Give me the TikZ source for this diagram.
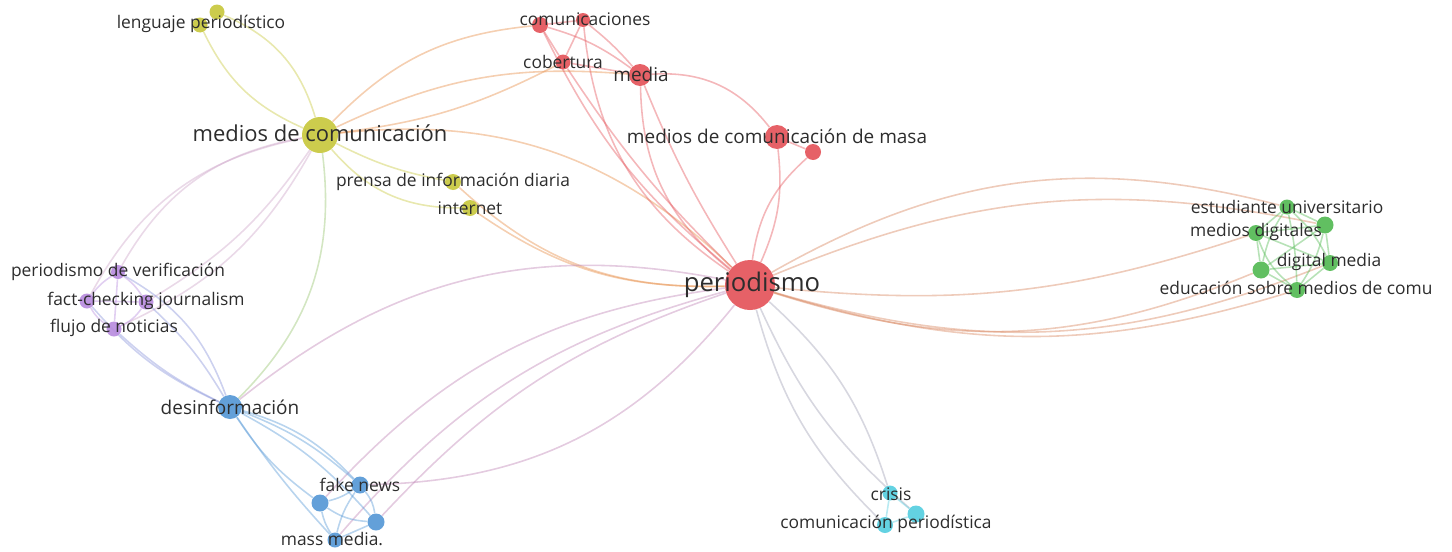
\documentclass[tikz,border=0pt]{standalone}
\usepackage{fontspec}
\setmainfont{Open Sans}
\usepackage{xcolor}
\usetikzlibrary{backgrounds}

\definecolor{cR}{RGB}{228,84,90}
\definecolor{cY}{RGB}{200,200,62}
\definecolor{cG}{RGB}{84,186,84}
\definecolor{cB}{RGB}{86,152,214}
\definecolor{cP}{RGB}{184,140,222}
\definecolor{cC}{RGB}{86,206,224}
\definecolor{eRY}{RGB}{230,140,70}
\definecolor{eRG}{RGB}{215,130,90}
\definecolor{eRB}{RGB}{190,130,180}
\definecolor{eRC}{RGB}{160,160,180}
\definecolor{eYP}{RGB}{205,165,200}
\definecolor{eYB}{RGB}{150,195,110}
\definecolor{txt}{RGB}{45,45,45}

\begin{document}
\begin{tikzpicture}[x=0.02cm,y=-0.02cm,
  nd/.style={circle,inner sep=0pt,minimum size=#1*0.02cm,fill opacity=0.92},
  lbS/.style={text=txt,inner sep=0pt,font=\fontsize{9.9}{11}\selectfont},
  lbM/.style={text=txt,inner sep=0pt,font=\fontsize{10.8}{12}\selectfont},
  lbL/.style={text=txt,inner sep=0pt,font=\fontsize{12.5}{14}\selectfont},
  lbXL/.style={text=txt,inner sep=0pt,font=\fontsize{14.6}{16}\selectfont},
  lk/.style={line width=0.9pt,opacity=0.42}]

\useasboundingbox (0,0) rectangle (1452,551);

% red cluster
\node(per) at (750,285)[nd=50,fill=cR]{};
\node(com1) at (540,25)[nd=16,fill=cR]{};
\node(com2) at (583,20)[nd=14,fill=cR]{};
\node(cob) at (563,62)[nd=15,fill=cR]{};
\node(med) at (640,75)[nd=22,fill=cR]{};
\node(mas) at (777,137)[nd=24,fill=cR]{};
\node(mas2) at (813,152)[nd=16,fill=cR]{};
% yellow cluster
\node(mdc) at (320,135)[nd=36,fill=cY]{};
\node(len1) at (200,25)[nd=15,fill=cY]{};
\node(len2) at (217,12)[nd=15,fill=cY]{};
\node(pre) at (453,182)[nd=16,fill=cY]{};
\node(int) at (470,208)[nd=16,fill=cY]{};
% green cluster
\node(est) at (1287,207)[nd=15,fill=cG]{};
\node(gr2) at (1325,225)[nd=17,fill=cG]{};
\node(mdig) at (1256,233)[nd=16,fill=cG]{};
\node(dmed) at (1330,263)[nd=16,fill=cG]{};
\node(gr5) at (1261,270)[nd=17,fill=cG]{};
\node(edu) at (1297,290)[nd=16,fill=cG]{};
% purple cluster
\node(ver) at (118,272)[nd=14,fill=cP]{};
\node(fc1) at (87,301)[nd=15,fill=cP]{};
\node(fc2) at (146,302)[nd=15,fill=cP]{};
\node(flu) at (114,329)[nd=15,fill=cP]{};
% blue cluster
\node(des) at (230,407)[nd=24,fill=cB]{};
\node(fak) at (360,485)[nd=17,fill=cB]{};
\node(bl2) at (320,503)[nd=17,fill=cB]{};
\node(bl3) at (376,522)[nd=17,fill=cB]{};
\node(mm) at (335,540)[nd=15,fill=cB]{};
% cyan cluster
\node(cri) at (890,493)[nd=15,fill=cC]{};
\node(cy2) at (916,514)[nd=17,fill=cC]{};
\node(cp) at (885,525)[nd=16,fill=cC]{};

\begin{scope}[on background layer]
% links of medios de comunicacion
\draw[lk,cY] (mdc) to[bend left=20] (len1);
\draw[lk,cY] (mdc) to[bend right=25] (len2);
\draw[lk,cY] (mdc) to[bend right=8] (pre);
\draw[lk,cY] (mdc) to[bend right=25] (int);
\draw[lk,eRY] (mdc) to[bend left=20] (com1);
\draw[lk,eRY] (mdc) to[bend left=15] (med);
\draw[lk,eRY] (mdc) to[bend right=10] (cob);
\draw[lk,eRY] (mdc) to[bend left=25] (per);
\draw[lk,eYP] (mdc) to[bend right=25] (ver);
\draw[lk,eYP] (mdc) to[bend right=25] (fc1);
\draw[lk,eYP] (mdc) to[bend left=12] (fc2);
\draw[lk,eYP] (mdc) to[bend left=18] (flu);
\draw[lk,eYB] (mdc) to[bend left=26] (des);
\draw[lk,eRY] (pre) to[bend right=22] (per);
\draw[lk,eRY] (int) to[bend right=18] (per);

% red links
\draw[lk,cR] (com1) -- (com2);
\draw[lk,cR] (com1) -- (cob);
\draw[lk,cR] (com1) to[bend left=10] (med);
\draw[lk,cR] (com2) -- (cob);
\draw[lk,cR] (com2) to[bend left=5] (med);
\draw[lk,cR] (cob) -- (med);
\draw[lk,cR] (com2) to[bend right=25] (per);
\draw[lk,cR] (com1) to[bend right=12] (per);
\draw[lk,cR] (cob) to[bend right=6] (per);
\draw[lk,cR] (med) to[bend right=25] (per);
\draw[lk,cR] (med) to[bend right=5] (per);
\draw[lk,cR] (med) to[bend left=28] (mas);
\draw[lk,cR] (mas) -- (mas2);
\draw[lk,cR] (mas) to[bend left=15] (per);
\draw[lk,cR] (mas2) to[bend right=20] (per);

% periodismo to green
\draw[lk,eRG] (per) to[bend left=22] (est);
\draw[lk,eRG] (per) to[bend left=17] (gr2);
\draw[lk,eRG] (per) to[bend right=12] (mdig);
\draw[lk,eRG] (per) to[bend right=20] (gr5);
\draw[lk,eRG] (per) to[bend right=17] (edu);
\draw[lk,eRG] (per) to[bend right=19] (dmed);

% periodismo to blue and cyan
\draw[lk,eRB] (des) to[bend left=25] (per);
\draw[lk,eRB] (fak) to[bend right=25] (per);
\draw[lk,eRB] (bl2) to[bend left=20] (per);
\draw[lk,eRB] (mm) to[bend left=17] (per);
\draw[lk,eRB] (bl3) to[bend left=14] (per);
\draw[lk,eRC] (per) to[bend left=15] (cri);
\draw[lk,eRC] (per) to[bend right=15] (cp);
\draw[lk,eRC] (per) to[bend right=12] (cy2);

% purple links
\draw[lk,cP] (ver) to[bend right=10] (fc1);
\draw[lk,cP] (ver) to[bend left=10] (fc2);
\draw[lk,cP] (ver) -- (flu);
\draw[lk,cP] (fc1) to[bend right=15] (flu);
\draw[lk,cP] (fc2) to[bend left=15] (flu);
\draw[lk,cP] (fc1) -- (fc2);
\draw[lk,cP!50!cB] (ver) to[bend left=20] (des);
\draw[lk,cP!50!cB] (fc1) to[bend right=12] (des);
\draw[lk,cP!50!cB] (fc2) to[bend left=8] (des);
\draw[lk,cP!50!cB] (flu) to[bend right=8] (des);

% blue links
\draw[lk,cB] (des) to[bend left=15] (fak);
\draw[lk,cB] (des) to[bend left=10] (fak);
\draw[lk,cB] (des) to[bend left=10] (bl3);
\draw[lk,cB] (des) to[bend right=10] (bl2);
\draw[lk,cB] (des) to[bend right=4] (mm);
\draw[lk,cB] (fak) to[bend left=10] (bl2);
\draw[lk,cB] (fak) to[bend right=10] (mm);
\draw[lk,cB] (fak) to[bend left=15] (bl3);
\draw[lk,cB] (bl2) to[bend right=10] (mm);
\draw[lk,cB] (bl2) to[bend right=15] (bl3);
\draw[lk,cB] (mm) -- (bl3);

% green links
\draw[lk,cG] (est) -- (gr2);
\draw[lk,cG] (est) -- (mdig);
\draw[lk,cG] (est) to[bend left=10] (dmed);
\draw[lk,cG] (est) to[bend right=10] (gr5);
\draw[lk,cG] (est) to[bend left=5] (edu);
\draw[lk,cG] (gr2) -- (mdig);
\draw[lk,cG] (gr2) -- (dmed);
\draw[lk,cG] (gr2) -- (gr5);
\draw[lk,cG] (gr2) to[bend left=10] (edu);
\draw[lk,cG] (mdig) to[bend right=15] (edu);
\draw[lk,cG] (mdig) -- (gr5);
\draw[lk,cG] (mdig) -- (dmed);
\draw[lk,cG] (dmed) -- (edu);
\draw[lk,cG] (dmed) -- (gr5);
\draw[lk,cG] (gr5) -- (edu);

% cyan links
\draw[lk,cC] (cri) -- (cy2);
\draw[lk,cC] (cri) -- (cp);
\draw[lk,cC] (cp) -- (cy2);
\end{scope}

% labels
\node(t-per) at (752,285)[lbXL]{periodismo};
\node(t-mdc) at (320,133)[lbL]{medios de comunicación};
\node(t-len) at (201,24)[lbS]{lenguaje periodístico};
\node(t-pre) at (453,182)[lbS]{prensa de información diaria};
\node(t-int) at (470,208)[lbS]{internet};
\node(t-com) at (585,19)[lbS]{comunicaciones};
\node(t-cob) at (563,62)[lbS]{cobertura};
\node(t-med) at (641,74)[lbM]{media};
\node(t-mas) at (777,136)[lbM]{medios de comunicación de masa};
\node(t-est) at (1287,207)[lbS]{estudiante universitario};
\node(t-mdig) at (1256,232)[lbS]{medios digitales};
\node(t-dmed) at (1329,262)[lbS]{digital media};
\node(t-edu) at (1296,288)[lbS]{educación sobre medios de comu};
\node(t-ver) at (118,272)[lbS]{periodismo de verificación};
\node(t-fc) at (146,301)[lbS]{fact-checking journalism};
\node(t-flu) at (114,328)[lbS]{flujo de noticias};
\node(t-des) at (230,407)[lbM]{desinformación};
\node(t-fak) at (360,485)[lbS]{fake news};
\node(t-mm) at (332,539)[lbS]{mass media.};
\node(t-cri) at (891,494)[lbS]{crisis};
\node(t-cp) at (886,524)[lbS]{comunicación periodística};

\end{tikzpicture}
\end{document}
